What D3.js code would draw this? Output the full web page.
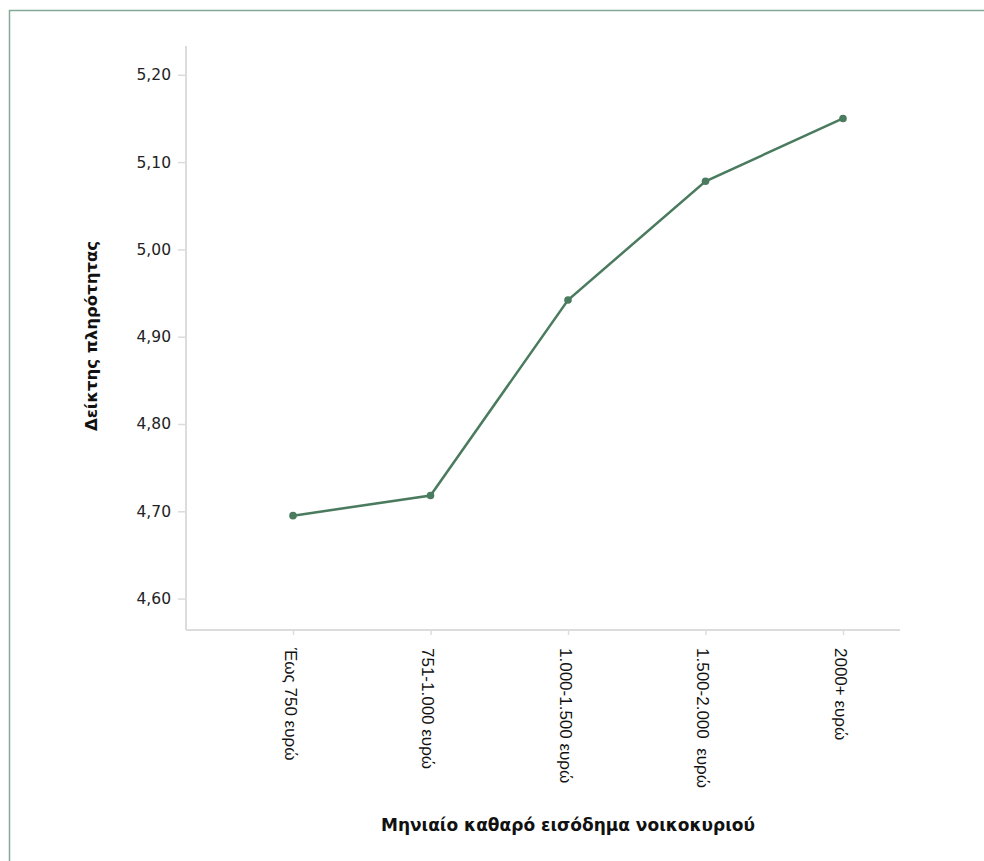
<!DOCTYPE html>
<html><head><meta charset="utf-8">
<script src="https://cdn.jsdelivr.net/npm/d3@7"></script>
<style>body{margin:0;background:#fff}svg{display:block}</style>
</head><body>
<svg id="c" width="984" height="861"></svg>
<script>
const categories = ["Έως 750 ευρώ","751-1.000 ευρώ","1.000-1.500 ευρώ","1.500-2.000  ευρώ","2000+ ευρώ"];
const values = [4.695, 4.718, 4.942, 5.078, 5.150];
const yTicks = [4.6, 4.7, 4.8, 4.9, 5.0, 5.1, 5.2];
const xTitle = "Μηνιαίο καθαρό εισόδημα νοικοκυριού";
const yTitle = "Δείκτης πληρότητας";

const svg = d3.select("#c");
svg.append("rect").attr("x",9.5).attr("y",10.5).attr("width",1000).attr("height",900)
  .attr("fill","none").attr("stroke","#86a898").attr("stroke-width",1.5);

const pLeft=186, pRight=900, pTop=46, pBottom=630;
const y = d3.scaleLinear().domain([4.564,5.233]).range([pBottom, pTop]);
const x = d3.scalePoint().domain(categories).range([293, 843]);

const fmt = v => d3.format(".2f")(v).replace(".", ",");
const yAxis = svg.append("g").attr("transform",`translate(${pLeft},0)`)
  .call(d3.axisLeft(y).tickValues(yTicks).tickFormat(fmt).tickSize(8).tickPadding(7));
yAxis.select(".domain").remove();
svg.append("line").attr("x1",pLeft).attr("x2",pLeft).attr("y1",pTop).attr("y2",pBottom)
  .attr("stroke","#dcdcdc").attr("stroke-width",2);
yAxis.selectAll(".tick line").attr("stroke","#dcdcdc").attr("stroke-width",1.5);
yAxis.selectAll(".tick text").attr("font-family","'DejaVu Sans', sans-serif")
  .attr("font-size",15.5).attr("fill","#222");

const xAxis = svg.append("g").attr("transform",`translate(0,${pBottom})`)
  .call(d3.axisBottom(x).tickSize(5).tickPadding(0));
xAxis.select(".domain").remove();
svg.append("line").attr("x1",pLeft).attr("x2",pRight).attr("y1",pBottom).attr("y2",pBottom)
  .attr("stroke","#dcdcdc").attr("stroke-width",2);
xAxis.selectAll(".tick line").attr("stroke","#dcdcdc").attr("stroke-width",1.5);
xAxis.selectAll(".tick text")
  .attr("font-family","'Liberation Sans', Arial, sans-serif").attr("font-size",17).attr("fill","#111")
  .style("white-space","pre")
  .attr("text-anchor","start").attr("dy",null).attr("y",0)
  .attr("transform","translate(-9,18) rotate(90)");

const line = d3.line().x((d,i)=>x(categories[i])).y(d=>y(d));
svg.append("path").datum(values).attr("d",line).attr("fill","none")
  .attr("stroke","#4b7b5e").attr("stroke-width",2.5);
svg.selectAll("circle.pt").data(values).enter().append("circle").attr("class","pt")
  .attr("cx",(d,i)=>x(categories[i])).attr("cy",d=>y(d)).attr("r",3.8).attr("fill","#4b7b5e");

svg.append("text").attr("x",568).attr("y",831).attr("text-anchor","middle")
  .attr("font-family","'DejaVu Sans', sans-serif").attr("font-weight","bold")
  .attr("font-size",17).attr("fill","#111").text(xTitle);
svg.append("text").attr("transform","translate(97,336) rotate(-90)").attr("text-anchor","middle")
  .attr("font-family","'DejaVu Sans', sans-serif").attr("font-weight","bold")
  .attr("font-size",16.5).attr("fill","#111").text(yTitle);
</script>
</body></html>
